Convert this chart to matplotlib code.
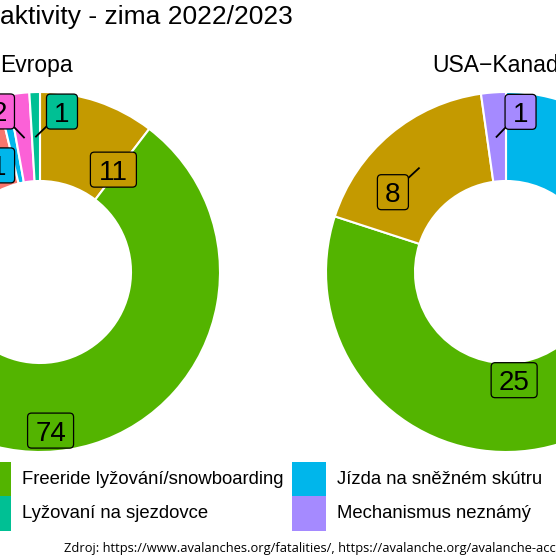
import numpy as np
import matplotlib
matplotlib.use("Agg")
import matplotlib.pyplot as plt
from matplotlib.patches import FancyBboxPatch, Rectangle

plt.rcParams['font.family'] = ['Liberation Sans', 'DejaVu Sans']

# categories in legend order, ggplot default hue colours
categories = ["Horolezectví", "Skialpinismus", "Freeride lyžování/snowboarding",
              "Lyžovaní na sjezdovce", "Jízda na sněžném skútru",
              "Mechanismus neznámý", "Ostatní"]
colors = ["#F8766D", "#C49A00", "#53B400", "#00C094", "#00B6EB", "#A58AFF", "#FB61D7"]

regions = ["Evropa", "USA\u2212Kanada"]

# slices clockwise from 12 o'clock (index into categories) and their counts
eu_order = [1, 2, 0, 4, 6, 3]
eu_values = [11, 74, 17, 1, 2, 1]
us_order = [4, 2, 1, 5]
us_values = [11, 25, 8, 1]

title = "aktivity - zima 2022/2023"
source = "Zdroj: https://www.avalanches.org/fatalities/, https://avalanche.org/avalanche-accidents/"

# label nudges (px) like ggrepel did, and whether a leader line shows
eu_nudge = [(30, -26), (-29, -29), (0, 0), (-13, -26), (-25, 26), (26, 25)]
eu_seg = [False, False, False, False, True, True]
us_nudge = [(0, 0), (27, 26), (-26, -24), (24, 25)]
us_seg = [False, False, True, True]

W = 556
fig = plt.figure(figsize=(W / 100, W / 100), dpi=100)
ax = fig.add_axes([0, 0, 1, 1])

R = 180
ring = 89
centers = [(40, 284), (506, 284)]
data = [(eu_order, eu_values, eu_nudge, eu_seg), (us_order, us_values, us_nudge, us_seg)]

for (cx, cy), name, (order, vals, nudge, seg) in zip(centers, regions, data):
    wedges, _ = ax.pie(vals, colors=[colors[i] for i in order], startangle=90,
                       counterclock=False, radius=R, center=(cx, cy),
                       wedgeprops=dict(width=ring, edgecolor='white', linewidth=1.5))
    rm = R - ring / 2
    for w, v, (nx, ny), s, i in zip(wedges, vals, nudge, seg, order):
        a = np.deg2rad((w.theta1 + w.theta2) / 2)
        x0, y0 = cx + rm * np.cos(a), cy + rm * np.sin(a)
        x, y = x0 + nx, y0 + ny
        bw = 16 + 15 * len(str(v))
        bh = 35
        if s:
            ax.plot([x0, x], [y0, y], color='black', lw=1.3, zorder=3)
        ax.add_patch(FancyBboxPatch((x - bw / 2, y - bh / 2), bw, bh,
                                    boxstyle="round,pad=0,rounding_size=4",
                                    fc=colors[i], ec='black', lw=0.9, zorder=4))
        ax.text(x, y - 10, str(v), ha='center', va='baseline', fontsize=20, zorder=5)
    ax.text(cx - 4, 484, name, ha='center', va='baseline', fontsize=16.5)

ax.text(0, 532, title, ha='left', va='baseline', fontsize=19)

# legend, 2 rows filled by column
col_x = [-330, -23, 292, 556]
row_top = [94, 60]
for k, (lab, c) in enumerate(zip(categories, colors)):
    x = col_x[k // 2]
    top = row_top[k % 2]
    ax.add_patch(Rectangle((x, top - 34.5), 34, 34.5, fc=c, ec='none'))
    ax.text(x + 45, top - 17, lab, ha='left', va='center', fontsize=13.3)

ax.text(64, 4, source, ha='left', va='baseline', fontsize=9.3,
        family=['Open Sans', 'DejaVu Sans'])

ax.set_xlim(0, W)
ax.set_ylim(0, W)
ax.set_aspect('equal')
ax.axis('off')
fig.savefig('out.png', dpi=100)
